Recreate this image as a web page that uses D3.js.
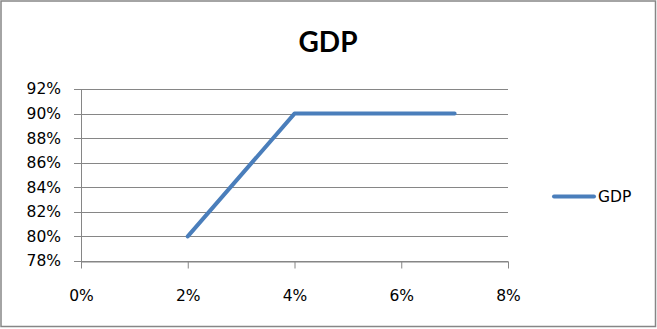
<!DOCTYPE html>
<html><head><meta charset="utf-8">
<script src="https://cdn.jsdelivr.net/npm/d3@7"></script>
<style>body{margin:0;background:#fff}svg{display:block}</style>
</head><body>
<svg id="c" width="657" height="329"></svg>
<script>
const title = "GDP";
const seriesName = "GDP";
const xValues = [0.02, 0.04, 0.07];
const yValues = [0.80, 0.90, 0.90];
const xTicks = [0, 0.02, 0.04, 0.06, 0.08];
const yTicks = [0.78, 0.80, 0.82, 0.84, 0.86, 0.88, 0.90, 0.92];

const svg = d3.select("#c");
const font = "'DejaVu Sans', sans-serif";
const grid = "#868686";

svg.append("rect").attr("x",1).attr("y",1).attr("width",654.5).attr("height",325.5)
  .attr("fill","#fff").attr("stroke",grid).attr("stroke-width",1.5);

const x = d3.scaleLinear().domain([0,0.08]).range([81,508]);
const y = d3.scaleLinear().domain([0.78,0.92]).range([261,89]);

// gridlines
svg.append("g").selectAll("line").data(yTicks).join("line")
  .attr("x1",74).attr("x2",508).attr("y1",d=>Math.round(y(d))+0.5).attr("y2",d=>Math.round(y(d))+0.5)
  .attr("stroke",grid).attr("stroke-width",1);

// y axis
const ya = svg.append("g").attr("transform","translate(81,0)")
  .call(d3.axisLeft(y).tickValues(yTicks).tickFormat(d3.format(".0%")).tickSize(0).tickPadding(20));
ya.select(".domain").attr("stroke",grid).attr("d","M0.5,"+y(0.92)+"V"+y(0.78));
ya.selectAll("text").attr("font-family",font).attr("font-size",15.5).attr("fill","#000");

// x axis
const xa = svg.append("g").attr("transform","translate(0,"+(Math.round(y(0.78))+0.5)+")")
  .call(d3.axisBottom(x).tickValues(xTicks).tickFormat(d3.format(".0%")).tickSize(7).tickSizeOuter(0).tickPadding(21));
xa.select(".domain").attr("stroke",grid);
xa.selectAll(".tick line").attr("stroke",grid);
xa.selectAll("text").attr("font-family",font).attr("font-size",15.5).attr("fill","#000");

// line
const pts = xValues.map((v,i)=>[v,yValues[i]]);
svg.append("path").datum(pts)
  .attr("d", d3.line().x(d=>x(d[0])).y(d=>y(d[1])))
  .attr("fill","none").attr("stroke","#4a7ebb").attr("stroke-width",4)
  .attr("stroke-linecap","round").attr("stroke-linejoin","round");

// title
svg.append("text").attr("x",328).attr("y",52).attr("text-anchor","middle")
  .attr("font-family","Lato, 'Open Sans', sans-serif").attr("font-weight","bold").attr("font-size",28)
  .text(title);

// legend
svg.append("line").attr("x1",554).attr("x2",594).attr("y1",196.5).attr("y2",196.5)
  .attr("stroke","#4a7ebb").attr("stroke-width",4).attr("stroke-linecap","round");
svg.append("text").attr("x",598).attr("y",202).attr("font-family",font).attr("font-size",15.5)
  .text(seriesName);
</script>
</body></html>
